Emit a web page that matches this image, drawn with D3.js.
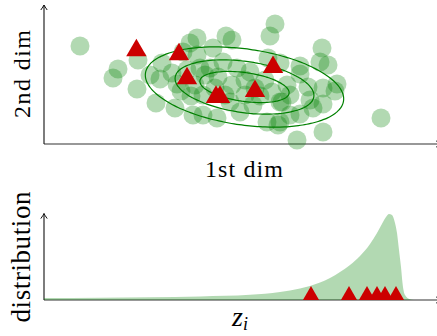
<!DOCTYPE html>
<html>
<head>
<meta charset="utf-8">
<script src="https://cdn.jsdelivr.net/npm/d3@7"></script>
<style>
  html, body { margin: 0; padding: 0; background: #fff; }
  svg { display: block; }
</style>
</head>
<body>
<svg id="chart" width="437" height="336"></svg>
<script>
// ---- latent samples in the plane (1st dim, 2nd dim) ----
const sampleX = [9, 18.5, 17.25, 23.5, 23.25, 28, 32.75, 29.5, 29, 32, 34.75, 36.5, 38.25, 33.25, 34.25,
  36.75, 37.25, 38.25, 37.75, 39.75, 41.5, 43.5, 44.75, 45.5, 47, 47, 48.25, 51.5, 46.5, 49, 52.25, 54,
  57, 59, 39.75, 43.25, 55.75, 58.5, 57.75, 56.5, 56, 59, 64, 64, 60.75, 66, 69.5, 69, 71, 73.25, 72.75,
  69.75, 69.75, 67.25, 66.5, 61.5, 64, 59, 69.75, 63.25, 84.25, 59.5, 50.25, 52.75, 42.75, 45.25, 40.25,
  55.25, 61.5, 50.25, 42.25, 39, 35.75, 26.5];
const sampleY = [24.5, 18.75, 16.5, 21, 13.75, 10.25, 9, 20.25, 16.25, 17.75, 23, 25.25, 26.5, 15, 13.25,
  12, 7.25, 22.25, 14.75, 12.25, 19, 16.75, 20.5, 27, 26, 14.75, 19, 18, 10.5, 8, 9.75, 12,
  13, 10.5, 7.25, 6.5, 5.5, 4.75, 30, 27, 21.5, 20.25, 19.5, 17.5, 14.75, 14.25, 24, 20.5, 19.75, 15, 13.25,
  14, 10, 9, 11, 7.25, 7.5, 5.5, 3, 1, 6.5, 10.5, 16, 14, 14, 12.25, 17.25,
  16, 12.25, 12.25, 24, 19, 18.5, 17.25];

// ---- highlighted points ----
const markX = [23.1, 33.75, 35.75, 43, 44, 52.75, 57.25];
const markY = [23.4, 22.4, 16.4, 11.75, 11.75, 13.2, 19.2];

// ---- Gaussian contour ellipses ----
const contourA = [11.25, 17.5, 25];   // semi-major axes
const contourB = [3.6, 6.4, 9.5];     // semi-minor axes
const contourCenter = [50.125, 14.25];
const contourTilt = 8;                // degrees, major axis falling to the right

// ---- 1-D distribution of z_i ----
const zGrid = [0, 14, 26.5, 39, 51.5, 59, 64, 66.5, 69, 71.5, 74, 76.5, 79, 81.5, 83.25, 84.75, 85.5,
  86.25, 87, 87.75, 88.25, 88.75, 89.25, 89.625, 90.25, 91.5, 92.5];
const density = [0.5, 0.575, 0.7, 0.9, 1.3, 2, 2.875, 3.5, 4.375, 5.5, 7, 8.75, 11, 14, 16.75, 19.5, 20.75,
  21.5, 21.25, 19.25, 16.75, 12.5, 8.25, 4.25, 1.25, 0.175, 0];
const zMarks = [66.75, 76.25, 80.75, 83.25, 85.25, 88];

// ---- labels ----
const xLabelTop = "1st dim";
const yLabelTop = "2nd dim";
const yLabelBottom = "distribution";
const xLabelBottom = ["z", "i"];

const GREEN = "rgb(0,128,0)";
const RED = "rgb(204,0,0)";
const FONT = "'Liberation Serif', 'Times New Roman', serif";

const svg = d3.select("#chart");

// Arrow-tipped axis pair
function drawAxes(g, x0, y0, xEnd, yEnd) {
  g.append("line").attr("x1", x0).attr("y1", y0).attr("x2", xEnd).attr("y2", y0)
    .attr("stroke", "#333").attr("stroke-width", 1.1);
  g.append("line").attr("x1", x0).attr("y1", y0).attr("x2", x0).attr("y2", yEnd)
    .attr("stroke", "#111").attr("stroke-width", 1.1);
  g.append("path")
    .attr("d", `M${x0 - 3.2},${yEnd + 5} Q${x0 - 0.8},${yEnd + 1.6} ${x0},${yEnd} Q${x0 + 0.8},${yEnd + 1.6} ${x0 + 3.2},${yEnd + 5}`)
    .attr("fill", "none").attr("stroke", "#111").attr("stroke-width", 1);
  g.append("path")
    .attr("d", `M${xEnd - 5},${y0 - 3.2} Q${xEnd - 1.6},${y0 - 0.8} ${xEnd},${y0} Q${xEnd - 1.6},${y0 + 0.8} ${xEnd - 5},${y0 + 3.2}`)
    .attr("fill", "none").attr("stroke", "#333").attr("stroke-width", 1);
}

// ================= top panel: 2-D scatter =================
const xTop = d3.scaleLinear().domain([0, 99.25]).range([44, 441]);
const yTop = d3.scaleLinear().domain([0, 35]).range([144, 4]);

const scatterPanel = svg.append("g");
drawAxes(scatterPanel, xTop(0), yTop(0), xTop(99.25), yTop(34.75));

scatterPanel.append("g").selectAll("circle")
  .data(d3.range(sampleX.length))
  .join("circle")
  .attr("cx", i => xTop(sampleX[i]))
  .attr("cy", i => yTop(sampleY[i]))
  .attr("r", 9.5)
  .attr("fill", GREEN)
  .attr("fill-opacity", 0.3);

const tilt = contourTilt * Math.PI / 180;
const angles = d3.range(0, 360, 3).map(d => d * Math.PI / 180);
const ellipseLine = d3.line().x(p => xTop(p[0])).y(p => yTop(p[1])).curve(d3.curveCardinalClosed);
scatterPanel.append("g").selectAll("path")
  .data(d3.range(contourA.length))
  .join("path")
  .attr("d", i => {
    const a = contourA[i], b = contourB[i];
    const pts = angles.map(t => [
      contourCenter[0] + a * Math.cos(t) * Math.cos(tilt) + b * Math.sin(t) * Math.sin(tilt),
      contourCenter[1] - a * Math.cos(t) * Math.sin(tilt) + b * Math.sin(t) * Math.cos(tilt)
    ]);
    return ellipseLine(pts);
  })
  .attr("fill", "none")
  .attr("stroke", GREEN)
  .attr("stroke-width", 1.2);

const triTop = d3.symbol().type(d3.symbolTriangle).size(180);
scatterPanel.append("g").selectAll("path")
  .data(d3.range(markX.length))
  .join("path")
  .attr("transform", i => `translate(${xTop(markX[i])},${yTop(markY[i])})`)
  .attr("d", triTop)
  .attr("fill", RED);

scatterPanel.append("text")
  .attr("x", 244).attr("y", 177)
  .attr("text-anchor", "middle")
  .attr("font-family", FONT).attr("font-size", 24)
  .attr("textLength", 78).attr("lengthAdjust", "spacing")
  .text(xLabelTop);

scatterPanel.append("text")
  .attr("transform", "translate(30,74) rotate(-90)")
  .attr("text-anchor", "middle")
  .attr("font-family", FONT).attr("font-size", 24)
  .attr("textLength", 88).attr("lengthAdjust", "spacing")
  .text(yLabelTop);

// ================= bottom panel: distribution of z_i =================
const xBot = d3.scaleLinear().domain([0, 99.25]).range([44, 441]);
const yBot = d3.scaleLinear().domain([0, 22]).range([300, 212]);

const distPanel = svg.append("g");
drawAxes(distPanel, xBot(0), yBot(0), xBot(99.25), yBot(21.6));

const area = d3.area()
  .x((d, i) => xBot(zGrid[i]))
  .y0(yBot(0))
  .y1(d => yBot(d))
  .curve(d3.curveMonotoneX);
distPanel.append("path")
  .attr("d", area(density))
  .attr("fill", GREEN)
  .attr("fill-opacity", 0.3);

const triSize = 113;
const triR = Math.sqrt(triSize / (3 * Math.sqrt(3)));
const triBot = d3.symbol().type(d3.symbolTriangle).size(triSize);
distPanel.append("g").selectAll("path")
  .data(zMarks)
  .join("path")
  .attr("transform", d => `translate(${xBot(d)},${yBot(0) - triR})`)
  .attr("d", triBot)
  .attr("fill", RED);

distPanel.append("text")
  .attr("transform", "translate(30,257) rotate(-90)")
  .attr("text-anchor", "middle")
  .attr("font-family", FONT).attr("font-size", 27)
  .attr("textLength", 131).attr("lengthAdjust", "spacing")
  .text(yLabelBottom);

const zl = distPanel.append("text")
  .attr("x", 232).attr("y", 326)
  .attr("font-family", FONT);
zl.append("tspan").attr("font-style", "italic").attr("font-size", 28).text(xLabelBottom[0]);
zl.append("tspan").attr("font-style", "italic").attr("font-size", 18).attr("dy", 4).text(xLabelBottom[1]);
</script>
</body>
</html>
